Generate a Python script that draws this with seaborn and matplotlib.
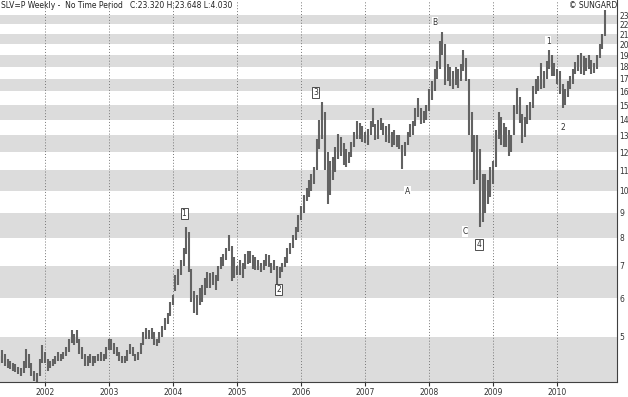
import matplotlib
matplotlib.use("Agg")
import matplotlib.pyplot as plt
import pandas as pd
import seaborn as sns

highs_2001 = [4.55, 4.70, 4.60, 4.50, 4.45, 4.40, 4.38, 4.32, 4.30, 4.45, 4.72, 4.60,
              4.40, 4.25, 4.20, 4.50, 4.80, 4.65]
lows_2001 = [4.35, 4.40, 4.35, 4.30, 4.28, 4.25, 4.22, 4.18, 4.15, 4.20, 4.30, 4.30,
             4.15, 4.05, 4.03, 4.15, 4.40, 4.40]

highs_2002 = [4.50, 4.45, 4.50, 4.55, 4.65, 4.60, 4.65, 4.75, 4.95, 5.15, 5.05, 5.15,
              4.95, 4.75, 4.60, 4.55, 4.60, 4.55, 4.55, 4.60, 4.65, 4.60, 4.75, 4.95]
lows_2002 = [4.25, 4.30, 4.35, 4.38, 4.45, 4.45, 4.50, 4.55, 4.65, 4.85, 4.80, 4.85,
             4.60, 4.50, 4.35, 4.35, 4.40, 4.35, 4.40, 4.45, 4.45, 4.45, 4.50, 4.70]

highs_2003 = [4.95, 4.85, 4.75, 4.65, 4.55, 4.55, 4.70, 4.82, 4.75, 4.60, 4.65, 4.85,
              5.10, 5.20, 5.15, 5.20, 5.10, 4.95, 5.10, 5.25, 5.45, 5.60, 5.90, 6.10]
lows_2003 = [4.70, 4.60, 4.55, 4.45, 4.40, 4.40, 4.45, 4.60, 4.55, 4.45, 4.48, 4.60,
             4.80, 4.95, 4.95, 4.95, 4.80, 4.78, 4.85, 5.00, 5.15, 5.30, 5.50, 5.80]

highs_2004 = [6.70, 6.90, 7.20, 7.60, 8.40, 8.20, 6.90, 6.20, 6.10, 6.30, 6.40, 6.60,
              6.80, 6.75, 6.80, 6.70, 7.00, 7.30, 7.40, 7.60, 8.10, 7.70, 7.30, 7.00]
lows_2004 = [6.20, 6.40, 6.70, 7.00, 7.40, 6.80, 5.90, 5.60, 5.55, 5.80, 5.90, 6.10,
             6.30, 6.30, 6.40, 6.25, 6.50, 6.90, 7.00, 7.20, 7.50, 6.50, 6.60, 6.70]

highs_2005 = [7.20, 7.10, 7.40, 7.50, 7.50, 7.35, 7.30, 7.20, 7.10, 7.20, 7.40, 7.35,
              7.10, 7.20, 7.00, 6.95, 7.10, 7.30, 7.60, 7.80, 8.10, 8.40, 8.90, 9.30]
lows_2005 = [6.70, 6.60, 6.90, 7.05, 7.10, 6.90, 6.85, 6.85, 6.80, 6.85, 7.00, 6.95,
             6.75, 6.85, 6.15, 6.60, 6.80, 6.95, 7.10, 7.40, 7.60, 7.90, 8.20, 8.70]

highs_2006 = [9.80, 10.10, 10.50, 10.80, 11.20, 12.80, 14.00, 15.20, 14.50, 12.00, 11.50, 11.70,
              12.30, 13.10, 12.90, 12.50, 12.20, 12.00, 12.60, 13.20, 13.90, 13.80, 13.60, 13.20]
lows_2006 = [9.00, 9.50, 9.70, 10.00, 10.30, 11.00, 12.20, 12.80, 11.00, 9.40, 9.80, 10.50,
             10.90, 11.60, 11.80, 11.30, 11.20, 11.40, 11.70, 12.30, 12.80, 12.80, 12.60, 12.50]

highs_2007 = [13.40, 13.90, 14.80, 13.70, 14.00, 14.10, 13.80, 13.60, 13.70, 13.20, 13.30, 13.00,
              13.00, 12.40, 12.60, 13.20, 13.70, 13.90, 14.80, 15.50, 14.80, 14.60, 15.00, 16.20]
lows_2007 = [12.40, 13.00, 13.50, 12.70, 12.80, 13.30, 13.00, 12.60, 12.50, 12.30, 12.40, 12.30,
             12.20, 11.10, 11.80, 12.40, 12.90, 13.00, 13.60, 14.20, 13.70, 13.80, 14.00, 14.60]

highs_2008 = [16.80, 17.80, 18.50, 20.30, 21.20, 20.00, 18.20, 18.00, 17.60, 18.00, 17.80, 18.20,
              19.50, 18.80, 17.00, 14.50, 13.00, 13.00, 12.20, 10.80, 10.80, 10.50, 11.20, 11.50]
lows_2008 = [15.40, 16.00, 17.00, 17.80, 19.00, 16.50, 16.80, 16.40, 16.20, 16.50, 16.30, 16.80,
             17.60, 16.80, 13.00, 12.00, 10.30, 10.50, 8.40, 8.60, 9.00, 9.40, 9.70, 10.30]

highs_2009 = [13.30, 14.50, 14.20, 13.80, 13.50, 13.30, 13.00, 15.00, 16.30, 15.60, 14.40, 14.20,
              15.00, 15.20, 16.40, 17.00, 17.20, 18.30, 17.60, 18.50, 19.50, 19.00, 18.30, 17.80]
lows_2009 = [11.20, 12.80, 12.40, 12.30, 12.30, 11.80, 12.00, 13.00, 14.40, 13.80, 12.50, 12.90,
             13.70, 14.00, 14.80, 15.80, 16.00, 16.20, 16.30, 17.00, 17.80, 17.20, 17.20, 16.60]

highs_2010 = [17.60, 16.60, 16.20, 16.80, 17.20, 17.80, 18.40, 19.00, 19.20, 18.90, 18.80, 19.00,
              18.60, 18.30, 19.00, 20.00, 21.00, 23.60]
lows_2010 = [15.80, 14.80, 15.00, 15.60, 16.20, 16.60, 17.40, 17.60, 17.40, 17.30, 17.60, 17.80,
             17.40, 17.50, 17.80, 18.80, 19.60, 20.80]

price_ticks = list(range(5, 24))
years = list(range(2002, 2011))

# wave labels: (text, date, price, boxed)
wave_labels = [
    ("1", "2004-03-04", 8.97, True),
    ("2", "2005-08-27", 6.25, True),
    ("3", "2006-03-26", 15.9, True),
    ("4", "2008-10-12", 7.74, True),
    ("A", "2007-09-02", 9.95, False),
    ("B", "2008-02-04", 22.2, False),
    ("C", "2008-07-24", 8.23, False),
    ("1", "2009-11-10", 20.3, False),
    ("2", "2010-02-04", 13.5, False),
]

highs = (highs_2001 + highs_2002 + highs_2003 + highs_2004 + highs_2005 +
         highs_2006 + highs_2007 + highs_2008 + highs_2009 + highs_2010)
lows = (lows_2001 + lows_2002 + lows_2003 + lows_2004 + lows_2005 +
        lows_2006 + lows_2007 + lows_2008 + lows_2009 + lows_2010)
dates = pd.date_range("2001-04-15", periods=len(highs), freq="SMS")
df = pd.DataFrame({"date": dates, "high": highs, "low": lows})

sns.set_theme(style="white")
plt.rcParams["font.family"] = ["Liberation Sans Narrow", "DejaVu Sans"]

fig = plt.figure(figsize=(6.28, 3.97), dpi=100)
ax = fig.add_axes([0, 15 / 397, 617 / 628, 382 / 397])
ax.set_yscale("log")

# alternating grey price bands
for lo in range(4, 23, 2):
    ax.axhspan(lo, lo + 1, color="#dcdcdc", lw=0, zorder=0)

for yr in years:
    ax.axvline(pd.Timestamp(f"{yr}-01-01"), color="#777777", ls=(0, (1, 2)), lw=0.7, zorder=1)

ax.vlines(df["date"], df["low"], df["high"], color="#626262", lw=1.5, zorder=2)

ax.set_xlim(pd.Timestamp("2001-04-19"), pd.Timestamp("2010-12-08"))
ax.set_ylim(4.03, 24.7)

ax.yaxis.tick_right()
ax.set_yticks(price_ticks)
ax.set_yticklabels([str(p) for p in price_ticks])
ax.yaxis.set_minor_locator(matplotlib.ticker.NullLocator())
ax.set_xticks([pd.Timestamp(f"{yr}-01-01") for yr in years])
ax.set_xticklabels([str(yr) for yr in years])
ax.tick_params(axis="y", length=0, pad=1.5, labelsize=5.5, colors="#333333")
ax.tick_params(axis="x", length=3, width=0.8, pad=1, labelsize=5.5, colors="#333333",
               direction="out", bottom=True)
for side in ["left", "top"]:
    ax.spines[side].set_visible(False)
for side in ["right", "bottom"]:
    ax.spines[side].set_color("#404040")
    ax.spines[side].set_linewidth(0.8)
ax.set_xlabel("")
ax.set_ylabel("")

for text, d, price, boxed in wave_labels:
    if boxed:
        box = dict(boxstyle="square,pad=0.15", fc="white", ec="#333333", lw=0.6)
    else:
        box = dict(boxstyle="square,pad=0.1", fc="white", ec="none")
    ax.text(pd.Timestamp(d), price, text, fontsize=5.5, ha="center", va="center",
            color="#333333", bbox=box, zorder=4)

fig.text(0.002, 0.997, "SLV=P Weekly -  No Time Period   C:23.320 H:23.648 L:4.030",
         fontsize=5.5, ha="left", va="top", color="#222222")
fig.text(617 / 628, 0.997, "\u00a9 SUNGARD", fontsize=5.5, ha="right", va="top",
         color="#222222")

fig.savefig("out.png", dpi=100)
